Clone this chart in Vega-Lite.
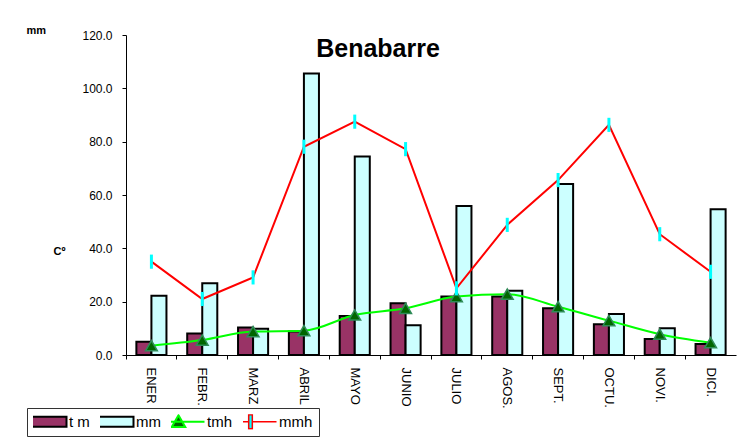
{
  "$schema": "https://vega.github.io/schema/vega-lite/v6.json",
  "width": 610,
  "height": 320,
  "autosize": {"type": "none"},
  "padding": {"left": 126, "top": 35, "right": 9, "bottom": 91},
  "background": "white",
  "title": {"text": "Benabarre", "fontSize": 25, "fontWeight": "bold", "font": "Liberation Sans", "anchor": "middle", "dx": -53, "offset": 0, "dy": 58, "baseline": "alphabetic", "color": "black"},
  "data": {"values": [
    {"mes": "ENER", "serie": "t m", "valor": 5.0}, {"mes": "FEBR.", "serie": "t m", "valor": 8.1}, {"mes": "MARZ", "serie": "t m", "valor": 10.3}, {"mes": "ABRIL", "serie": "t m", "valor": 8.8}, {"mes": "MAYO", "serie": "t m", "valor": 14.6}, {"mes": "JUNIO", "serie": "t m", "valor": 19.4}, {"mes": "JULIO", "serie": "t m", "valor": 21.9}, {"mes": "AGOS.", "serie": "t m", "valor": 21.9}, {"mes": "SEPT.", "serie": "t m", "valor": 17.5}, {"mes": "OCTU.", "serie": "t m", "valor": 11.5}, {"mes": "NOVI.", "serie": "t m", "valor": 6.0}, {"mes": "DICI.", "serie": "t m", "valor": 4.1},
    {"mes": "ENER", "serie": "mm", "valor": 22.2}, {"mes": "FEBR.", "serie": "mm", "valor": 26.9}, {"mes": "MARZ", "serie": "mm", "valor": 9.8}, {"mes": "ABRIL", "serie": "mm", "valor": 105.6}, {"mes": "MAYO", "serie": "mm", "valor": 74.4}, {"mes": "JUNIO", "serie": "mm", "valor": 11.2}, {"mes": "JULIO", "serie": "mm", "valor": 55.9}, {"mes": "AGOS.", "serie": "mm", "valor": 24.1}, {"mes": "SEPT.", "serie": "mm", "valor": 64.1}, {"mes": "OCTU.", "serie": "mm", "valor": 15.4}, {"mes": "NOVI.", "serie": "mm", "valor": 10.0}, {"mes": "DICI.", "serie": "mm", "valor": 54.7},
    {"mes": "ENER", "serie": "tmh", "valor": 3.5}, {"mes": "FEBR.", "serie": "tmh", "valor": 5.6}, {"mes": "MARZ", "serie": "tmh", "valor": 8.8}, {"mes": "ABRIL", "serie": "tmh", "valor": 9.1}, {"mes": "MAYO", "serie": "tmh", "valor": 15.0}, {"mes": "JUNIO", "serie": "tmh", "valor": 17.5}, {"mes": "JULIO", "serie": "tmh", "valor": 21.9}, {"mes": "AGOS.", "serie": "tmh", "valor": 22.8}, {"mes": "SEPT.", "serie": "tmh", "valor": 18.1}, {"mes": "OCTU.", "serie": "tmh", "valor": 12.9}, {"mes": "NOVI.", "serie": "tmh", "valor": 7.8}, {"mes": "DICI.", "serie": "tmh", "valor": 4.6},
    {"mes": "ENER", "serie": "mmh", "valor": 35.0}, {"mes": "FEBR.", "serie": "mmh", "valor": 21.0}, {"mes": "MARZ", "serie": "mmh", "valor": 29.1}, {"mes": "ABRIL", "serie": "mmh", "valor": 78.1}, {"mes": "MAYO", "serie": "mmh", "valor": 87.5}, {"mes": "JUNIO", "serie": "mmh", "valor": 77.2}, {"mes": "JULIO", "serie": "mmh", "valor": 25.0}, {"mes": "AGOS.", "serie": "mmh", "valor": 48.8}, {"mes": "SEPT.", "serie": "mmh", "valor": 65.6}, {"mes": "OCTU.", "serie": "mmh", "valor": 86.3}, {"mes": "NOVI.", "serie": "mmh", "valor": 45.3}, {"mes": "DICI.", "serie": "mmh", "valor": 31.2}
  ]},
  "encoding": {
    "x": {"field": "mes", "type": "nominal",
      "scale": {"domain": ["ENER", "FEBR.", "MARZ", "ABRIL", "MAYO", "JUNIO", "JULIO", "AGOS.", "SEPT.", "OCTU.", "NOVI.", "DICI."], "paddingInner": 0, "paddingOuter": 0},
      "axis": {"labelAngle": 90, "labelFontSize": 13, "tickSize": 4, "labelPadding": 8, "bandPosition": 0,
        "title": "Cº", "titleX": -73, "titleY": -101, "titleAlign": "left", "titleBaseline": "alphabetic", "titleAngle": 0, "titleFontSize": 11, "titleFontWeight": "bold"}},
    "y": {"field": "valor", "type": "quantitative",
      "scale": {"domain": [0, 120], "nice": false},
      "axis": {"values": [0, 20, 40, 60, 80, 100, 120], "format": ".1f", "labelFontSize": 12, "tickSize": 4, "labelPadding": 10,
        "title": "mm", "titleX": -100, "titleY": -2, "titleAlign": "left", "titleBaseline": "alphabetic", "titleAngle": 0, "titleFontSize": 11, "titleFontWeight": "bold"}}
  },
  "layer": [
    {
      "transform": [{"filter": "datum.serie === 't m' || datum.serie === 'mm'"}],
      "mark": {"type": "bar", "stroke": "black", "strokeWidth": 2},
      "encoding": {
        "xOffset": {"field": "serie", "type": "nominal", "scale": {"domain": ["t m", "mm"], "paddingInner": 0, "paddingOuter": 0.69}},
        "fill": {"field": "serie", "type": "nominal",
          "scale": {"domain": ["t m", "mm"], "range": ["#993366", "#CCFFFF"]},
          "legend": null}
      }
    },
    {
      "transform": [{"filter": "datum.serie === 'tmh'"}],
      "mark": {"type": "line", "interpolate": "monotone", "strokeWidth": 2},
      "encoding": {"stroke": {"field": "serie", "type": "nominal",
          "scale": {"domain": ["tmh", "mmh"], "range": ["#00FF00", "#FF0000"]},
          "legend": null}}
    },
    {
      "transform": [{"filter": "datum.serie === 'tmh'"}],
      "mark": {"type": "point", "shape": "triangle-up", "filled": true, "fill": "#006600", "stroke": "#2E8B57", "strokeWidth": 1.5, "size": 140, "opacity": 1},
      "encoding": {}
    },
    {
      "transform": [{"filter": "datum.serie === 'mmh'"}],
      "mark": {"type": "line", "strokeWidth": 2},
      "encoding": {"stroke": {"field": "serie", "type": "nominal", "legend": null}}
    },
    {
      "transform": [{"filter": "datum.serie === 'mmh'"}],
      "mark": {"type": "point", "shape": "M0,-1L0,1", "filled": false, "stroke": "#00FFFF", "strokeWidth": 3, "size": 200, "opacity": 1},
      "encoding": {}
    },
    {
      "mark": {"type": "point", "opacity": 0, "filled": true},
      "encoding": {"color": {"field": "serie", "type": "nominal",
          "scale": {"domain": ["t m", "mm", "tmh", "mmh"], "range": ["#993366", "#CCFFFF", "#006600", "#00FFFF"]},
          "legend": {
            "orient": "none", "legendX": -99, "legendY": 373, "direction": "horizontal", "title": null,
            "symbolSize": 2704, "labelFontSize": 15, "labelOffset": 21, "columnPadding": 10, "padding": 6,
            "strokeColor": "#333333", "fillColor": "white", "clipHeight": 15,
            "encode": {"symbols": {"update": {
              "shape": {"signal": "datum.value === 'tmh' ? 'M-1,0H1M-0.26,0.2L0,-0.25L0.26,0.2Z' : datum.value === 'mmh' ? 'M-1,0H-0.07M0.07,0H1M-0.07,-0.27H0.07V0.27H-0.07Z' : 'M-1,-0.19H1V0.19H-1Z'"},
              "fill": {"signal": "datum.value === 't m' ? '#993366' : datum.value === 'mm' ? '#CCFFFF' : datum.value === 'tmh' ? '#006600' : '#00FFFF'"},
              "stroke": {"signal": "(datum.value === 't m' || datum.value === 'mm') ? 'black' : datum.value === 'tmh' ? '#00FF00' : '#FF0000'"},
              "strokeWidth": {"signal": "datum.value === 'mmh' ? 1.5 : 2"},
              "fillOpacity": {"value": 1},
              "strokeOpacity": {"value": 1},
              "opacity": {"value": 1}
            }}}
          }}}
    }
  ],
  "config": {
    "font": "Liberation Sans",
    "view": {"stroke": null},
    "axis": {"grid": false, "domainColor": "black", "tickColor": "black", "labelColor": "black", "titleColor": "black", "domainWidth": 1}
  }
}
